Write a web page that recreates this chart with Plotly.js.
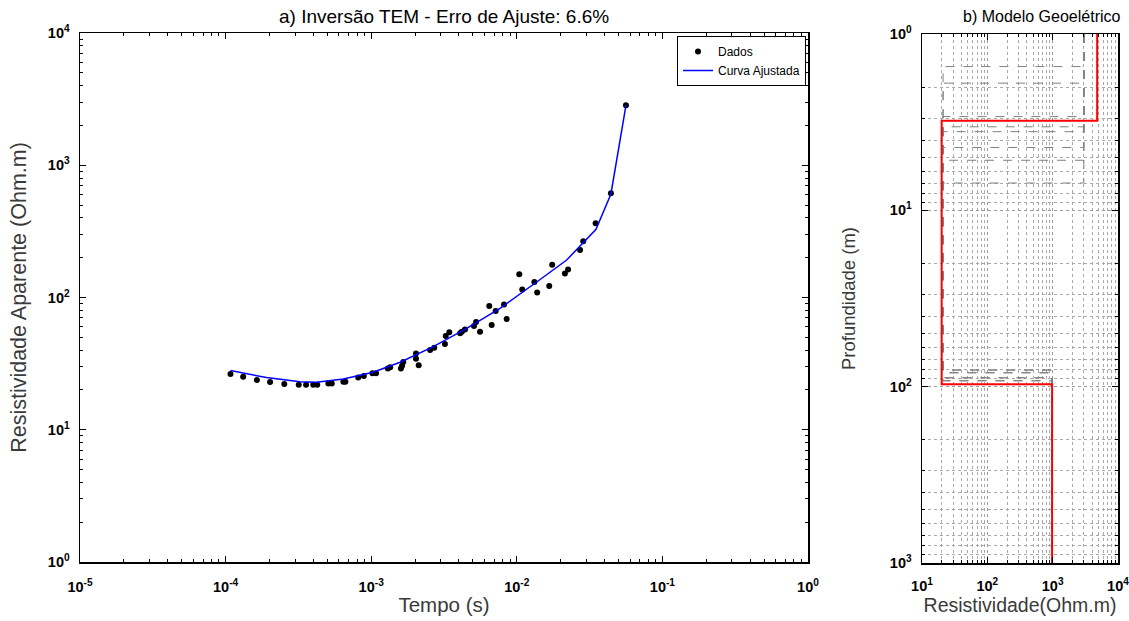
<!DOCTYPE html>
<html>
<head>
<meta charset="utf-8">
<script src="https://cdn.plot.ly/plotly-3.0.1.min.js"></script>
<style>html,body{margin:0;padding:0;background:#fff;}#chart{width:1129px;height:621px;}</style>
</head>
<body>
<div id="chart"></div>
<script>
// ---- Data: panel a) TEM apparent resistivity ----
const tData = [1.08e-4,1.32e-4,1.64e-4,2.02e-4,2.53e-4,3.18e-4,3.57e-4,4.0e-4,4.26e-4,5.08e-4,5.36e-4,6.44e-4,6.65e-4,8.15e-4,8.9e-4,1.02e-3,1.08e-3,1.30e-3,1.35e-3,1.60e-3,1.63e-3,1.66e-3,2.03e-3,2.03e-3,2.12e-3,2.54e-3,2.71e-3,3.21e-3,3.25e-3,3.44e-3,4.08e-3,4.19e-3,4.41e-3,5.08e-3,5.25e-3,5.59e-3,6.47e-3,6.72e-3,7.16e-3,8.17e-3,8.52e-3,1.04e-2,1.09e-2,1.32e-2,1.38e-2,1.67e-2,1.75e-2,2.14e-2,2.25e-2,2.72e-2,2.86e-2,3.48e-2,4.43e-2,5.62e-2];
const rhoData = [26.4,25.2,23.8,23.0,22.2,21.9,21.9,21.9,21.9,22.4,22.4,23.1,23.1,24.8,25.5,26.7,26.7,29.0,29.7,29.0,30.5,32.5,37.8,34.4,30.7,40.1,41.7,44.5,51.2,54.6,53.6,55.2,57.4,60.9,65.3,55.1,86.4,62.0,79.1,88.7,68.7,150,115,131,109,122,177,152,163,229,266,364,614,2840];
const tFit = [1.08e-4,1.91e-4,3.24e-4,4.2e-4,6.44e-4,1.03e-3,1.58e-3,2.67e-3,4.53e-3,7.67e-3,1.37e-2,2.20e-2,3.50e-2,4.43e-2,5.62e-2];
const rhoFit = [28.0,24.8,23.1,22.9,24.2,27.2,32.4,42.5,58.5,82.8,131,192,328,607,2840];

// ---- Data: panel b) geoelectric model ----
const modelRho = [4800, 20, 980];      // layer resistivities (Ohm.m)
const modelDepth = [3.1, 97];          // interface depths (m)
const depthTop = 1, depthBottom = 1000;
// alternative (equivalent) models, dashed gray
const altRho1 = [3000,3000,3000,3000,3000,3000,3000,3000];
const altRho2 = [21,21,21,21,21,21,21,21];
const altRho3 = [980,980,980,980,980,980,980,980];
const altD1 = [1.53,1.9,2.94,3.36,3.58,4.4,5.2,7.0];
const altD2 = [89,92.6,80.5,83.4,89,92.6,80.5,83.4];

// ---- Tick labels ----
const xTickExpA = [-5,-4,-3,-2,-1,0];
const yTickExpA = [0,1,2,3,4];
const xTickExpB = [1,2,3,4];
const yTickExpB = [0,1,2,3];

function pw(e){ return Math.pow(10,e); }
function lbl(e){ return '<b>10<sup>'+e+'</sup></b>'; }
function minors(e0,e1){ const v=[]; for(let e=e0;e<e1;e++){ for(let k=2;k<=9;k++) v.push(k*Math.pow(10,e)); } return v; }
function stepModel(rho, d, top, bottom){
  const x=[], y=[]; const bounds=[top].concat(d).concat([bottom]);
  for(let i=0;i<rho.length;i++){ x.push(rho[i],rho[i]); y.push(bounds[i],bounds[i+1]); }
  return {x:x,y:y};
}

const FONT = '"Liberation Sans", Arial, Helvetica, sans-serif';
const traces = [];
traces.push({x:tData, y:rhoData, type:'scatter', mode:'markers', name:'Dados',
  marker:{color:'#000', size:6}, xaxis:'x', yaxis:'y'});
traces.push({x:tFit, y:rhoFit, type:'scatter', mode:'lines', name:'Curva Ajustada',
  line:{color:'#0000ff', width:1.5}, xaxis:'x', yaxis:'y'});
for(let i=0;i<altD1.length;i++){
  const s = stepModel([altRho1[i],altRho2[i],altRho3[i]],[altD1[i],altD2[i]],depthTop,depthBottom);
  traces.push({x:s.x, y:s.y, type:'scatter', mode:'lines', showlegend:false,
    line:{color:'#808080', width:1, dash:'dash'}, xaxis:'x2', yaxis:'y2', hoverinfo:'skip'});
}
const sm = stepModel(modelRho, modelDepth, depthTop, depthBottom);
traces.push({x:sm.x, y:sm.y, type:'scatter', mode:'lines', showlegend:false,
  line:{color:'#ff0000', width:2}, xaxis:'x2', yaxis:'y2'});

const W=1129, H=621;
const axA = {l:80,r:808,t:33,b:562};
const axB = {l:922,r:1118,t:34,b:563};
const common = {type:'log', showline:true, linecolor:'#000', linewidth:1.5, mirror:'ticks',
  ticks:'inside', ticklen:6, tickwidth:1, tickcolor:'#000', zeroline:false, ticklabeloverflow:'allow',
  tickfont:{family:FONT, size:14.5, color:'#000'}};
const TITLEC = '#3a3a3a';

const layout = {
  width:W, height:H, margin:{l:0,r:0,t:0,b:0}, paper_bgcolor:'#fff', plot_bgcolor:'#fff',
  font:{family:FONT, color:'#000'}, showlegend:true,
  xaxis: Object.assign({}, common, {domain:[axA.l/W, axA.r/W], anchor:'y', range:[-5,0],
    tickmode:'array', tickvals:xTickExpA.map(pw), ticktext:xTickExpA.map(lbl), showgrid:false,
    ticklabelstandoff:11,
    minor:{ticks:'inside', ticklen:3, tickcolor:'#000', tickvals:minors(-5,0), showgrid:false},
    title:{text:'Tempo (s)', font:{family:FONT, size:20.5, color:TITLEC}, standoff:3}}),
  yaxis: Object.assign({}, common, {domain:[(H-axA.b)/H, (H-axA.t)/H], anchor:'x', range:[0,4],
    tickmode:'array', tickvals:yTickExpA.map(pw), ticktext:yTickExpA.map(lbl), showgrid:false,
    ticklabelstandoff:6,
    minor:{ticks:'inside', ticklen:3, tickcolor:'#000', tickvals:minors(0,4), showgrid:false},
    title:{text:'Resistividade Aparente (Ohm.m)', font:{family:FONT, size:21.5, color:TITLEC}, standoff:15}}),
  xaxis2: Object.assign({}, common, {domain:[axB.l/W, axB.r/W], anchor:'y2', range:[1,4],
    tickmode:'array', tickvals:xTickExpB.map(pw), ticktext:xTickExpB.map(lbl),
    showgrid:true, gridcolor:'#999', griddash:'dot', gridwidth:1, ticklabelstandoff:9,
    minor:{ticks:'inside', ticklen:3, tickcolor:'#000', tickvals:minors(1,4), showgrid:true, gridcolor:'#aaa', griddash:'dot', gridwidth:1},
    title:{text:'Resistividade(Ohm.m)', font:{family:FONT, size:19.5, color:TITLEC}, standoff:5}}),
  yaxis2: Object.assign({}, common, {domain:[(H-axB.b)/H, (H-axB.t)/H], anchor:'x2', range:[3,0],
    tickmode:'array', tickvals:yTickExpB.map(pw), ticktext:yTickExpB.map(lbl),
    showgrid:true, gridcolor:'#999', griddash:'dot', gridwidth:1, ticklabelstandoff:6,
    minor:{ticks:'inside', ticklen:3, tickcolor:'#000', tickvals:minors(0,3), showgrid:true, gridcolor:'#aaa', griddash:'dot', gridwidth:1},
    title:{text:'Profundidade (m)', font:{family:FONT, size:18.5, color:TITLEC}, standoff:29}}),
  legend:{x:806/W, y:(H-36)/H, xanchor:'right', yanchor:'top', bgcolor:'#fff',
    bordercolor:'#000', borderwidth:1, font:{family:FONT, size:12, color:'#000'},
    tracegroupgap:0, itemwidth:30},
  annotations:[
    {text:'a) Inversão TEM - Erro de Ajuste: 6.6%', xref:'paper', yref:'paper',
     x:(axA.l+axA.r)/2/W, y:(H-16)/H, xanchor:'center', yanchor:'middle', showarrow:false,
     font:{family:FONT, size:19, color:'#000'}},
    {text:'b) Modelo Geoelétrico', xref:'paper', yref:'paper',
     x:1042/W, y:(H-16)/H, xanchor:'center', yanchor:'middle', showarrow:false,
     font:{family:FONT, size:16, color:'#000'}}
  ]
};

Plotly.newPlot('chart', traces, layout, {displayModeBar:false, staticPlot:true});
</script>
</body>
</html>
